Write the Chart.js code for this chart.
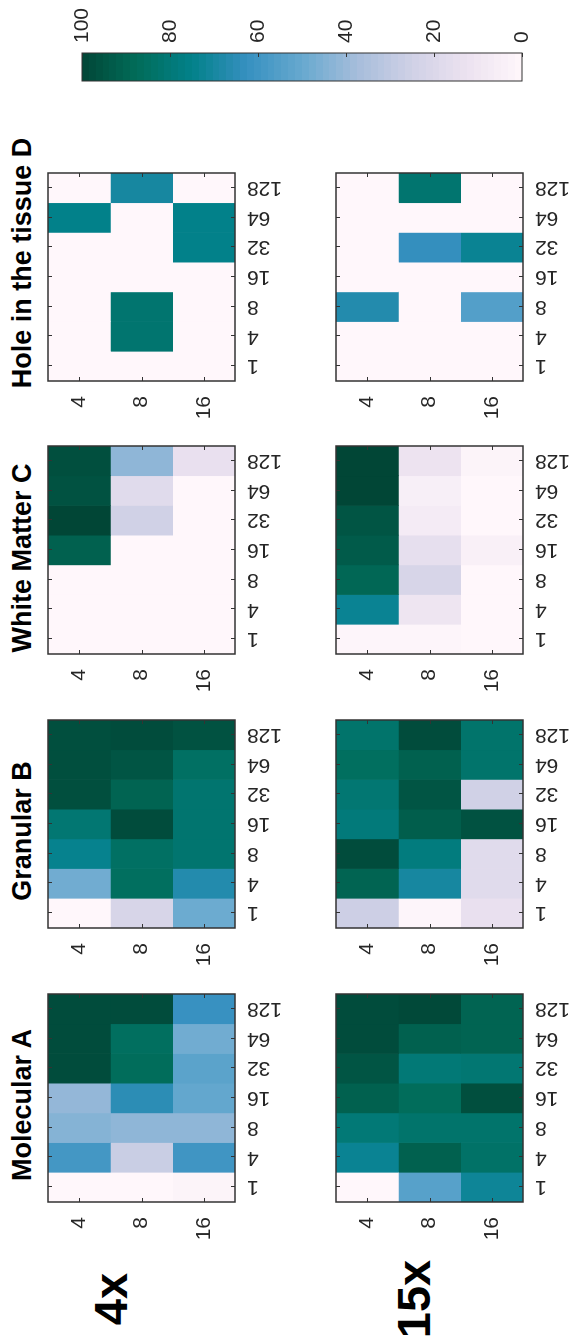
<!DOCTYPE html>
<html lang="en">
<head>
    <meta charset="UTF-8">
    <title>Tissue heatmaps</title>
    <script src="https://cdn.jsdelivr.net/npm/chart.js@4.4.0/dist/chart.umd.min.js"></script>
    <style>
        html, body { margin: 0; padding: 0; background: #fff; overflow: hidden; }
        body { width: 573px; height: 1337px; position: relative; }
        /* the figure is laid out upright and then turned a quarter left */
        #fig {
            position: absolute; left: 0; top: 0;
            width: 1337px; height: 573px;
            transform-origin: 0 0;
            transform: translateY(1337px) rotate(-90deg);
            font-family: "Liberation Sans", Arial, Helvetica, sans-serif;
        }
        #fig canvas { position: absolute; }
        .title {
            position: absolute; top: 9px; line-height: 27px;
            font-size: 27px; font-weight: bold; color: #000;
            white-space: nowrap; transform: translateX(-50%);
        }
        .mag {
            position: absolute; left: 38px; line-height: 47px;
            font-size: 47px; font-weight: bold; color: #000;
            white-space: nowrap; transform: translateX(-50%);
        }
    </style>
</head>
<body>
<div id="fig">
    <div class="title" style="left:232px">Molecular A</div>
    <div class="title" style="left:506px">Granular B</div>
    <div class="title" style="left:779px">White Matter C</div>
    <div class="title" style="left:1074px">Hole in the tissue D</div>
    <div class="mag" style="top:87px">4x</div>
    <div class="mag" style="top:390px">15x</div>

    <canvas id="a4" width="276" height="253"></canvas>
    <canvas id="b4" width="276" height="253"></canvas>
    <canvas id="c4" width="276" height="253"></canvas>
    <canvas id="d4" width="276" height="253"></canvas>
    <canvas id="a15" width="276" height="253"></canvas>
    <canvas id="b15" width="276" height="253"></canvas>
    <canvas id="c15" width="276" height="253"></canvas>
    <canvas id="d15" width="276" height="253"></canvas>
    <canvas id="cbar" width="87" height="460" style="left:1250px;top:72px"></canvas>
</div>

<script>
    // columns and rows of every panel
    const colLabels = ['1', '4', '8', '16', '32', '64', '128'];
    const rowLabels = ['4', '8', '16'];

    // values in %, one row per rowLabels entry, columns in colLabels order
    const molecular4x = [
        [0, 59, 44, 41, 98, 98, 98],
        [0, 27, 42, 65, 87, 86, 98],
        [2, 60, 42, 51, 53, 48, 62]
    ];
    const granular4x = [
        [0, 48, 74, 81, 97, 97, 97],
        [22, 86, 85, 98, 90, 95, 98],
        [49, 67, 82, 82, 82, 85, 96]
    ];
    const whiteMatter4x = [
        [0, 0, 0, 91, 100, 96, 97],
        [0, 0, 0, 0, 25, 18, 42],
        [0, 0, 0, 0, 0, 0, 14]
    ];
    const hole4x = [
        [0, 0, 0, 0, 0, 75, 0],
        [0, 82, 82, 0, 0, 0, 70],
        [0, 0, 0, 0, 75, 75, 0]
    ];
    const molecular15x = [
        [0, 73, 80, 91, 95, 98, 98],
        [54, 91, 83, 87, 80, 91, 99],
        [72, 84, 83, 97, 81, 90, 90]
    ];
    const granular15x = [
        [26, 90, 98, 79, 81, 86, 83],
        [1, 70, 78, 92, 95, 91, 98],
        [14, 18, 18, 96, 25, 83, 83]
    ];
    const whiteMatter15x = [
        [1, 73, 89, 93, 95, 100, 100],
        [1, 11, 22, 15, 7, 5, 12],
        [0, 0, 0, 4, 0, 0, 2]
    ];
    const hole15x = [
        [0, 0, 67, 0, 0, 0, 0],
        [0, 0, 0, 0, 63, 0, 82],
        [0, 0, 55, 0, 73, 0, 0]
    ];

    // colour bar scale
    const cbarMin = 0;
    const cbarMax = 100;
    const cbarStep = 20;
    const cbarLevels = 64;

    // PuBuGn, low -> high
    const cmap = ['#fff7fb', '#ece2f0', '#d0d1e6', '#a6bddb', '#67a9cf', '#3690c0', '#02818a', '#016c59', '#014636'];

    const FONT = '"Liberation Sans", Arial, Helvetica, sans-serif';
    const TXT = '#262626';
    const EDGE = '#333333';

    Chart.defaults.font.family = FONT;
    Chart.defaults.font.size = 21;
    Chart.defaults.color = TXT;

    function hexRgb(h) {
        return [parseInt(h.slice(1, 3), 16), parseInt(h.slice(3, 5), 16), parseInt(h.slice(5, 7), 16)];
    }

    function colorFor(v) {
        const t = Math.max(0, Math.min(1, (v - cbarMin) / (cbarMax - cbarMin))) * (cmap.length - 1);
        const i = Math.min(cmap.length - 2, Math.floor(t));
        const f = t - i;
        const a = hexRgb(cmap[i]), b = hexRgb(cmap[i + 1]);
        const c = a.map((x, k) => Math.round(x + (b[k] - x) * f));
        return 'rgb(' + c.join(',') + ')';
    }

    // axes should not push the plot area in for their end labels
    function noPad(s) {
        s.paddingTop = 0; s.paddingBottom = 0; s.paddingLeft = 0; s.paddingRight = 0;
    }

    // box round the plot with small ticks pointing inwards
    const frame = {
        id: 'frame',
        afterDraw(chart, args, opts) {
            const { ctx, chartArea: a } = chart;
            ctx.save();
            ctx.strokeStyle = EDGE;
            ctx.lineWidth = opts.width || 1.5;
            ctx.strokeRect(a.left, a.top, a.right - a.left, a.bottom - a.top);
            ctx.lineWidth = 1;
            const len = 4;
            ctx.beginPath();
            if (opts.xTicks) {
                chart.scales.x.ticks.forEach((t, i) => {
                    const px = Math.round(chart.scales.x.getPixelForTick(i)) + 0.5;
                    ctx.moveTo(px, a.top); ctx.lineTo(px, a.top + len);
                    ctx.moveTo(px, a.bottom); ctx.lineTo(px, a.bottom - len);
                });
            }
            chart.scales.y.ticks.forEach(t => {
                const py = Math.round(chart.scales.y.getPixelForValue(t.value)) + 0.5;
                if (opts.yLeft) { ctx.moveTo(a.left, py); ctx.lineTo(a.left + len, py); }
                ctx.moveTo(a.right, py); ctx.lineTo(a.right - len, py);
            });
            ctx.stroke();
            ctx.restore();
        }
    };

    const tickFont = { family: FONT, size: 21 };

    const panels = [
        ['a4', molecular4x, 135, 48], ['b4', granular4x, 409, 48],
        ['c4', whiteMatter4x, 683, 48], ['d4', hole4x, 956, 48],
        ['a15', molecular15x, 135, 336], ['b15', granular15x, 409, 336],
        ['c15', whiteMatter15x, 683, 336], ['d15', hole15x, 956, 336]
    ];

    function heatmap(id, values, plotLeft, plotTop) {
        const el = document.getElementById(id);
        el.style.left = (plotLeft - 60) + 'px';
        el.style.top = (plotTop - 6) + 'px';

        const datasets = rowLabels.map((r, i) => ({
            label: r,
            data: values[i].map(() => [i - 0.5, i + 0.5]),
            backgroundColor: values[i].map(colorFor),
            borderWidth: 0,
            barPercentage: 1,
            categoryPercentage: 1,
            grouped: false
        }));

        return new Chart(el, {
            type: 'bar',
            data: { labels: colLabels, datasets: datasets },
            options: {
                responsive: false,
                animation: false,
                layout: { padding: { top: 6, right: 8, left: 0, bottom: 0 } },
                plugins: {
                    legend: { display: false },
                    tooltip: { enabled: false },
                    frame: { xTicks: true, yLeft: true, width: 1.5 }
                },
                scales: {
                    x: {
                        type: 'category',
                        offset: true,
                        grid: { display: false, drawTicks: false },
                        border: { display: false },
                        ticks: {
                            minRotation: 90, maxRotation: 90, padding: 12,
                            autoSkip: false,
                            color: TXT, font: tickFont
                        },
                        afterFit: s => { s.height = 60; noPad(s); }
                    },
                    y: {
                        type: 'linear',
                        min: -0.5, max: rowLabels.length - 0.5,
                        reverse: true,
                        grid: { display: false, drawTicks: false },
                        border: { display: false },
                        afterBuildTicks: s => { s.ticks = rowLabels.map((_, i) => ({ value: i })); },
                        ticks: {
                            padding: 15,
                            color: TXT, font: tickFont,
                            callback: v => rowLabels[v]
                        },
                        afterFit: s => { s.width = 60; noPad(s); }
                    }
                }
            },
            plugins: [frame]
        });
    }

    panels.forEach(p => heatmap(p[0], p[1], p[2], p[3]));

    // colour bar, banded like the indexed colour map of the original
    new Chart(document.getElementById('cbar'), {
        type: 'bar',
        data: {
            labels: [''],
            datasets: [{
                data: [[cbarMin, cbarMax]],
                barPercentage: 1,
                categoryPercentage: 1,
                borderWidth: 0,
                backgroundColor: ctx => {
                    const chart = ctx.chart;
                    if (!chart.chartArea) return cmap[0];
                    const y = chart.scales.y;
                    const g = chart.ctx.createLinearGradient(0, y.getPixelForValue(cbarMin), 0, y.getPixelForValue(cbarMax));
                    for (let k = 0; k < cbarLevels; k++) {
                        const c = colorFor(cbarMin + (k + 0.5) / cbarLevels * (cbarMax - cbarMin));
                        g.addColorStop(k / cbarLevels, c);
                        g.addColorStop((k + 1) / cbarLevels, c);
                    }
                    return g;
                }
            }]
        },
        options: {
            responsive: false,
            animation: false,
            layout: { padding: { top: 10, bottom: 10, left: 6, right: 0 } },
            plugins: {
                legend: { display: false },
                tooltip: { enabled: false },
                frame: { xTicks: false, yLeft: false, width: 1 }
            },
            scales: {
                x: { type: 'category', display: false, offset: true },
                y: {
                    position: 'right',
                    min: cbarMin, max: cbarMax,
                    grid: { display: false, drawTicks: false },
                    border: { display: false },
                    ticks: {
                        stepSize: cbarStep, padding: 10,
                        color: TXT, font: tickFont
                    },
                    afterFit: s => { s.width = 53; noPad(s); }
                }
            }
        },
        plugins: [frame]
    });
</script>
</body>
</html>
